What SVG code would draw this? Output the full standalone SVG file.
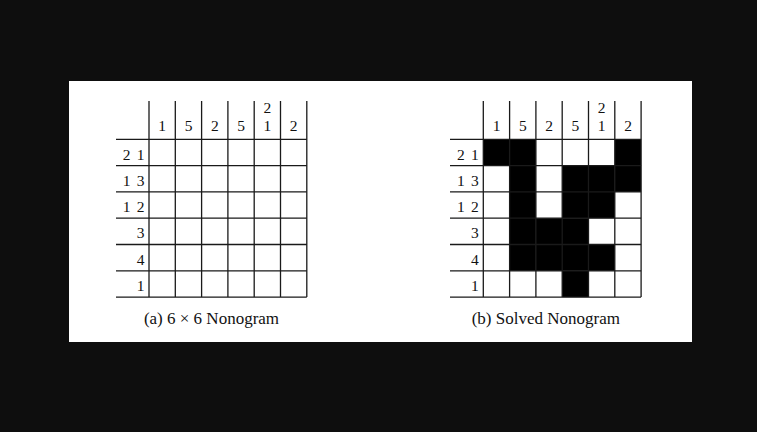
<svg xmlns="http://www.w3.org/2000/svg" width="757" height="432" viewBox="0 0 757 432">
<style>
.ln{stroke:#1a1a1a;stroke-width:1.3;fill:none}
.t{font-family:"Liberation Serif","DejaVu Serif",serif;font-size:15.5px;fill:#111}
.c{text-anchor:middle}
.r{text-anchor:end;word-spacing:2.5px}
.cap{font-family:"Liberation Serif","DejaVu Serif",serif;font-size:17px;fill:#111;text-anchor:middle}
.f{fill:#000}
</style>
<rect x="0" y="0" width="757" height="432" fill="#0e0e0e"/>
<rect x="69" y="81" width="623" height="261" fill="#ffffff"/>
<g id="panel-a">
<g id="grid-a" class="ln">
<path d="M149 101V297.1M175.3 101V297.1M201.6 101V297.1M227.9 101V297.1M254.2 101V297.1M280.5 101V297.1M306.8 101V297.1"/>
<path d="M116 139.3H306.8M116 165.6H306.8M116 191.9H306.8M116 218.2H306.8M116 244.5H306.8M116 270.8H306.8M116 297.1H306.8"/>
</g>
<g id="col-clues-a" class="t c">
<text x="162.2" y="130.5">1</text>
<text x="188.5" y="130.5">5</text>
<text x="214.8" y="130.5">2</text>
<text x="241.1" y="130.5">5</text>
<text x="267.4" y="112.5">2</text>
<text x="267.4" y="130.5">1</text>
<text x="293.7" y="130.5">2</text>
</g>
<g id="row-clues-a" class="t r">
<text x="144.5" y="159.5">2 1</text>
<text x="144.5" y="185.8">1 3</text>
<text x="144.5" y="212.1">1 2</text>
<text x="144.5" y="238.4">3</text>
<text x="144.5" y="264.7">4</text>
<text x="144.5" y="291">1</text>
</g>
<text id="caption-a" class="cap" x="211.5" y="323.5">(a) 6 × 6 Nonogram</text>
</g>
<g id="panel-b">
<g id="cells-b" class="f">
<rect x="483.3" y="139.3" width="52.6" height="26.3"/>
<rect x="614.8" y="139.3" width="26.3" height="52.6"/>
<rect x="509.6" y="165.6" width="26.3" height="105.2"/>
<rect x="562.2" y="165.6" width="52.6" height="52.6"/>
<rect x="535.9" y="218.2" width="52.6" height="52.6"/>
<rect x="588.5" y="244.5" width="26.3" height="26.3"/>
<rect x="562.2" y="270.8" width="26.3" height="26.3"/>
</g>
<g id="grid-b" class="ln">
<path d="M483.3 101V297.1M509.6 101V297.1M535.9 101V297.1M562.2 101V297.1M588.5 101V297.1M614.8 101V297.1M641.1 101V297.1"/>
<path d="M450 139.3H641.1M450 165.6H641.1M450 191.9H641.1M450 218.2H641.1M450 244.5H641.1M450 270.8H641.1M450 297.1H641.1"/>
</g>
<g id="col-clues-b" class="t c">
<text x="496.5" y="130.5">1</text>
<text x="522.8" y="130.5">5</text>
<text x="549.1" y="130.5">2</text>
<text x="575.4" y="130.5">5</text>
<text x="601.7" y="112.5">2</text>
<text x="601.7" y="130.5">1</text>
<text x="628" y="130.5">2</text>
</g>
<g id="row-clues-b" class="t r">
<text x="478.8" y="159.5">2 1</text>
<text x="478.8" y="185.8">1 3</text>
<text x="478.8" y="212.1">1 2</text>
<text x="478.8" y="238.4">3</text>
<text x="478.8" y="264.7">4</text>
<text x="478.8" y="291">1</text>
</g>
<text id="caption-b" class="cap" x="545.8" y="323.5">(b) Solved Nonogram</text>
</g>
</svg>
